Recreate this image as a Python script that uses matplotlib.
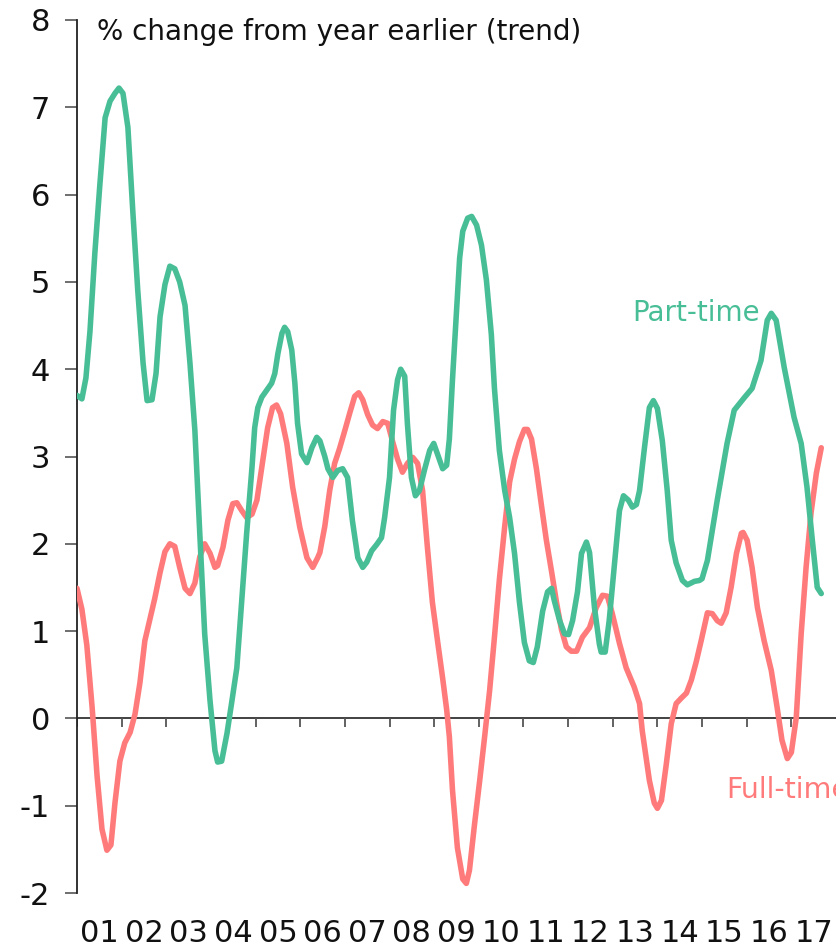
import matplotlib
matplotlib.use("Agg")
import matplotlib.pyplot as plt
import numpy as np

# Year-on-year employment growth, trend, by type (per cent)
part_time_dates = [
    2001.00, 2001.11, 2001.20, 2001.29, 2001.40, 2001.51, 2001.63, 2001.74, 2001.85, 2001.94,
    2002.03, 2002.14, 2002.25, 2002.36, 2002.48, 2002.57, 2002.68, 2002.77, 2002.86, 2002.97,
    2003.08, 2003.19, 2003.30, 2003.42, 2003.53, 2003.64, 2003.75, 2003.86, 2003.98,
    2004.09, 2004.15, 2004.24, 2004.36, 2004.47, 2004.58, 2004.69, 2004.80, 2004.92, 2004.98,
    2005.05, 2005.14, 2005.25, 2005.36, 2005.43, 2005.50, 2005.59, 2005.65, 2005.72, 2005.81,
    2005.88, 2005.94, 2006.03, 2006.15, 2006.26, 2006.37, 2006.44, 2006.55, 2006.62, 2006.73,
    2006.84, 2006.95, 2007.06, 2007.17, 2007.29, 2007.40, 2007.49, 2007.60, 2007.71, 2007.82,
    2007.89, 2008.00, 2008.09, 2008.18, 2008.25, 2008.34, 2008.40, 2008.49, 2008.58, 2008.67,
    2008.79, 2008.90, 2008.99, 2009.08, 2009.19, 2009.28, 2009.34, 2009.41, 2009.50, 2009.57,
    2009.64, 2009.75, 2009.84, 2009.95, 2010.06, 2010.17, 2010.28, 2010.35, 2010.46, 2010.58,
    2010.69, 2010.80, 2010.91, 2011.02, 2011.13, 2011.22, 2011.31, 2011.43, 2011.54, 2011.63,
    2011.69, 2011.81, 2011.92, 2012.01, 2012.10, 2012.21, 2012.30, 2012.41, 2012.48, 2012.59,
    2012.70, 2012.74, 2012.83, 2012.92, 2013.04, 2013.15, 2013.24, 2013.35, 2013.44, 2013.53,
    2013.60, 2013.71, 2013.82, 2013.91, 2014.00, 2014.11, 2014.22, 2014.31, 2014.42, 2014.56,
    2014.67, 2014.83, 2014.94, 2015.00, 2015.12, 2015.34, 2015.56, 2015.72, 2015.94, 2016.12,
    2016.32, 2016.46, 2016.55, 2016.66, 2016.84, 2017.06, 2017.22, 2017.35, 2017.47, 2017.58,
    2017.67,
]
part_time_growth = [
    3.70, 3.66, 3.90, 4.43, 5.33, 6.10, 6.88, 7.07, 7.16, 7.22,
    7.16, 6.77, 5.81, 4.91, 4.07, 3.64, 3.65, 3.95, 4.60, 4.97,
    5.18, 5.15, 5.00, 4.73, 4.07, 3.30, 2.12, 0.97, 0.20,
    -0.37, -0.50, -0.49, -0.17, 0.20, 0.58, 1.35, 2.12, 2.88, 3.33,
    3.56, 3.68, 3.76, 3.84, 3.95, 4.18, 4.41, 4.48, 4.43, 4.22,
    3.84, 3.38, 3.03, 2.93, 3.10, 3.22, 3.18, 3.00, 2.86, 2.76,
    2.84, 2.86, 2.76, 2.26, 1.84, 1.73, 1.79, 1.92, 1.99, 2.07,
    2.30, 2.76, 3.53, 3.88, 4.00, 3.92, 3.38, 2.76, 2.55, 2.61,
    2.86, 3.07, 3.15, 3.02, 2.86, 2.90, 3.20, 3.88, 4.65, 5.27,
    5.58, 5.73, 5.75, 5.65, 5.42, 5.02, 4.40, 3.78, 3.07, 2.61,
    2.30, 1.89, 1.33, 0.87, 0.66, 0.64, 0.82, 1.23, 1.45, 1.49,
    1.35, 1.12, 0.97, 0.96, 1.12, 1.45, 1.89, 2.02, 1.90, 1.27,
    0.85, 0.76, 0.76, 1.12, 1.78, 2.38, 2.55, 2.50, 2.42, 2.45,
    2.61, 3.10, 3.56, 3.64, 3.55, 3.18, 2.61, 2.04, 1.78, 1.58,
    1.53, 1.57, 1.58, 1.60, 1.81, 2.50, 3.15, 3.53, 3.67, 3.78,
    4.10, 4.56, 4.64, 4.56, 4.02, 3.45, 3.15, 2.65, 2.04, 1.50,
    1.43,
]

full_time_dates = [
    2001.00, 2001.11, 2001.22, 2001.34, 2001.45, 2001.56, 2001.67, 2001.76, 2001.85, 2001.96,
    2002.07, 2002.19, 2002.30, 2002.41, 2002.52, 2002.63, 2002.74, 2002.86, 2002.97,
    2003.08, 2003.19, 2003.30, 2003.42, 2003.53, 2003.64, 2003.75, 2003.86, 2003.98,
    2004.09, 2004.15, 2004.27, 2004.38, 2004.49, 2004.58, 2004.69, 2004.80, 2004.92,
    2005.03, 2005.14, 2005.27, 2005.38, 2005.47, 2005.56, 2005.70, 2005.83, 2005.99,
    2006.15, 2006.28, 2006.39, 2006.44, 2006.55, 2006.66, 2006.77, 2006.88, 2007.00,
    2007.11, 2007.22, 2007.31, 2007.40, 2007.51, 2007.62, 2007.73, 2007.85, 2007.96,
    2008.07, 2008.18, 2008.29, 2008.40, 2008.52, 2008.63, 2008.74, 2008.85, 2008.96,
    2009.08, 2009.19, 2009.28, 2009.34, 2009.41, 2009.52, 2009.64, 2009.72, 2009.79, 2009.90,
    2010.02, 2010.13, 2010.24, 2010.35, 2010.46, 2010.58, 2010.69, 2010.80, 2010.91,
    2011.02, 2011.09, 2011.18, 2011.29, 2011.40, 2011.51, 2011.63, 2011.74, 2011.85, 2011.96,
    2012.07, 2012.19, 2012.32, 2012.48, 2012.63, 2012.77, 2012.88, 2012.99,
    2013.15, 2013.30, 2013.48, 2013.60, 2013.66, 2013.82, 2013.93,
    2014.00, 2014.09, 2014.20, 2014.31, 2014.42, 2014.53, 2014.65, 2014.76, 2014.87, 2014.98,
    2015.12, 2015.23, 2015.34, 2015.43, 2015.54, 2015.65, 2015.77, 2015.88, 2015.92,
    2016.01, 2016.12, 2016.24, 2016.39, 2016.55, 2016.68, 2016.79, 2016.91,
    2017.00, 2017.11, 2017.22, 2017.33, 2017.44, 2017.56, 2017.67,
]
full_time_growth = [
    1.49, 1.25, 0.84, 0.12, -0.66, -1.27, -1.51, -1.45, -0.97, -0.49,
    -0.28, -0.16, 0.05, 0.41, 0.89, 1.13, 1.37, 1.67, 1.91,
    2.00, 1.97, 1.73, 1.49, 1.43, 1.55, 1.85, 2.00, 1.89,
    1.73, 1.75, 1.96, 2.27, 2.46, 2.47, 2.38, 2.30, 2.34,
    2.50, 2.88, 3.33, 3.56, 3.59, 3.49, 3.15, 2.65, 2.19,
    1.84, 1.73, 1.84, 1.90, 2.20, 2.61, 2.92, 3.09, 3.30,
    3.50, 3.69, 3.73, 3.65, 3.48, 3.36, 3.32, 3.40, 3.38,
    3.17, 2.97, 2.82, 2.92, 2.99, 2.92, 2.61, 1.95, 1.33,
    0.87, 0.46, 0.10, -0.21, -0.82, -1.48, -1.84, -1.89, -1.74, -1.23,
    -0.71, -0.21, 0.31, 0.93, 1.59, 2.20, 2.71, 2.97, 3.17,
    3.31, 3.31, 3.20, 2.86, 2.45, 2.05, 1.68, 1.33, 1.02, 0.82,
    0.77, 0.77, 0.93, 1.04, 1.27, 1.41, 1.40, 1.20,
    0.86, 0.58, 0.36, 0.17, -0.14, -0.71, -0.97,
    -1.03, -0.94, -0.52, -0.06, 0.17, 0.23, 0.29, 0.44, 0.65, 0.89,
    1.21, 1.20, 1.12, 1.09, 1.21, 1.50, 1.89, 2.12, 2.13,
    2.04, 1.73, 1.27, 0.89, 0.55, 0.13, -0.25, -0.46,
    -0.39, 0.01, 0.97, 1.73, 2.35, 2.81, 3.10,
]

years = list(range(2001, 2018))
year_labels = ["01", "02", "03", "04", "05", "06", "07", "08", "09",
               "10", "11", "12", "13", "14", "15", "16", "17"]
y_ticks = [-2, -1, 0, 1, 2, 3, 4, 5, 6, 7, 8]

GREEN = "#48BE96"
PINK = "#FF7B7B"
AXIS = "#222222"

plt.rcParams["font.family"] = ["DejaVu Sans"]

fig = plt.figure(figsize=(8.36, 9.47), dpi=100)
ax = fig.add_axes([0.0921, 0.057, 0.9079, 0.9219])

ax.plot(full_time_dates, full_time_growth, color=PINK, lw=4.0,
        solid_joinstyle="round", solid_capstyle="round", zorder=3)
ax.plot(part_time_dates, part_time_growth, color=GREEN, lw=4.0,
        solid_joinstyle="round", solid_capstyle="round", zorder=4)

ax.set_xlim(2001, 2018)
ax.set_ylim(-2, 8)

# zero line with year-boundary ticks hanging below it
ax.axhline(0, color="#333333", lw=1.3, zorder=2)
ax.vlines(years, -0.095, 0, color="#555555", lw=1.3, zorder=2)

for side in ("top", "right", "bottom"):
    ax.spines[side].set_visible(False)
ax.spines["left"].set_color(AXIS)
ax.spines["left"].set_linewidth(1.3)

ax.set_yticks(y_ticks)
ax.set_yticklabels([str(v) for v in y_ticks])
ax.tick_params(axis="y", length=8.5, width=1.2, color="#555555",
               labelsize=22, pad=11, labelcolor="#111111")

ax.set_xticks([y + 0.5 for y in years])
ax.set_xticklabels(year_labels)
ax.tick_params(axis="x", length=0, labelsize=22, pad=19, labelcolor="#111111")

ax.text(2001.45, 7.86, "% change from year earlier (trend)", fontsize=20,
        color="#111111", ha="left", va="center")
ax.text(2013.44, 4.64, "Part-time", fontsize=20, color=GREEN,
        ha="left", va="center")
ax.text(2015.54, -0.82, "Full-time", fontsize=20.5, color=PINK,
        ha="left", va="center", clip_on=False)

fig.savefig("out.png", dpi=100)
